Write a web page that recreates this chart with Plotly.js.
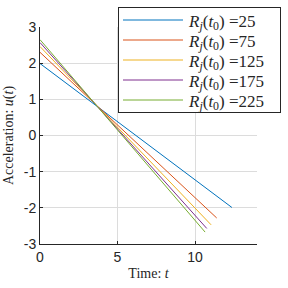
<!DOCTYPE html>
<html><head><meta charset="utf-8">
<script src="https://cdn.plot.ly/plotly-3.0.1.min.js"></script>
<style>html,body{margin:0;padding:0;background:#fff}#c{width:288px;height:288px}</style>
</head><body><div id="c"></div>
<script>
var labels = ['25','75','125','175','225'];
var colors = ['#0072BD','#D95319','#EDB120','#7E2F8E','#77AC30'];
var tStart = [0, 0, 0, 0, 0];
var tEnd = [12.38, 11.4, 11.04, 10.76, 10.65];
var uStart = [1.99, 2.3, 2.46, 2.57, 2.65];
var uEnd = [-1.99, -2.28, -2.47, -2.57, -2.67];
var xTicks = [0, 5, 10];
var yTicks = [-3, -2, -1, 0, 1, 2, 3];
var yTickText = ['-3', '-2', '-1', '0', '1', '2', '3'];

var traces = labels.map(function(l, i){
  return {
    x: [tStart[i], tEnd[i]], y: [uStart[i], uEnd[i]],
    type: 'scatter', mode: 'lines',
    line: {color: colors[i], width: 1},
    name: '<i>R</i><sub><i>j</i></sub>(<i>t</i><sub>0</sub>) =' + l
  };
});
var serif = 'Liberation Serif';
var sans = 'Liberation Sans';
var layout = {
  width: 288, height: 288,
  margin: {l: 40, r: 27, t: 22, b: 44},
  paper_bgcolor: '#fff', plot_bgcolor: '#fff',
  showlegend: true,
  legend: {x: 1.086, xanchor: 'right', y: 1.068, yanchor: 'top',
    bgcolor: '#fff', bordercolor: '#262626', borderwidth: 1,
    font: {family: serif, size: 17, color: '#262626'},
    itemwidth: 60, tracegroupgap: 0},
  xaxis: {range: [0, 14], tickvals: xTicks, showgrid: true, gridcolor: '#dcdcdc',
    zeroline: false, showline: true, linecolor: '#262626', linewidth: 1,
    ticks: 'inside', ticklen: 3, tickcolor: '#262626',
    tickfont: {family: sans, size: 14, color: '#262626'},
    title: {text: 'Time: <i>t</i>', font: {family: serif, size: 14, color: '#262626'}, standoff: 4}},
  yaxis: {range: [-3, 3], tickvals: yTicks, ticktext: yTickText, showgrid: true, gridcolor: '#dcdcdc',
    zeroline: false, showline: true, linecolor: '#262626', linewidth: 1,
    ticks: 'inside', ticklen: 3, tickcolor: '#262626',
    tickfont: {family: sans, size: 14, color: '#262626'},
    title: {text: 'Acceleration: <i>u</i>(<i>t</i>)', font: {family: serif, size: 14, color: '#262626'}, standoff: 6}}
};
Plotly.newPlot('c', traces, layout, {displayModeBar: false, staticPlot: true}).then(function(gd){
  // compact legend layout to match reference spacing
  var leg = gd.querySelector('.legend');
  if (!leg) return;
  leg.setAttribute('transform', 'translate(118,7)');
  var bg = leg.querySelector('rect.bg');
  if (bg) { bg.setAttribute('width', 162); bg.setAttribute('height', 105); bg.setAttribute('x', 0); bg.setAttribute('y', 0); }
  var sb = leg.querySelector('.scrollbox');
  if (sb) sb.setAttribute('transform', 'translate(0,0)');
  var items = leg.querySelectorAll('.traces');
  items.forEach(function(it, i){
    it.setAttribute('transform', 'translate(0,' + (13 + 20 * i) + ')');
    var p = it.querySelector('.legendlines path');
    if (p) p.setAttribute('d', 'M5,0h60');
    var t = it.querySelector('text.legendtext');
    if (t) t.setAttribute('x', 71);
  });
  var clip = document.querySelectorAll('clipPath rect');
  clip.forEach(function(r){
    if (r.parentNode.id && r.parentNode.id.indexOf('legend') >= 0) { r.setAttribute('width', 162); r.setAttribute('height', 105); }
  });
});
</script></body></html>
